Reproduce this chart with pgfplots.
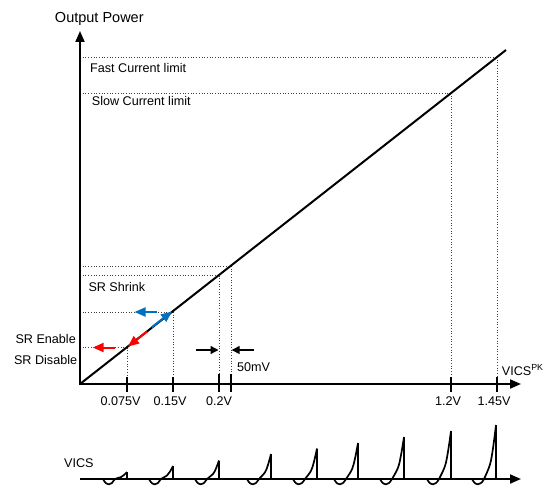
\documentclass[border=0pt]{standalone}
\usepackage{fontspec}
\setmainfont{Liberation Sans}
\usepackage{pgfplots}
\pgfplotsset{compat=1.18}
\usetikzlibrary{arrows.meta}
\definecolor{srblue}{RGB}{0,112,192}
\definecolor{srred}{RGB}{255,0,0}
\pgfplotsset{
  axl/.style={black, line width=2pt},
  dotl/.style={black!75, line width=0.7pt, dotted},
  tickl/.style={black, line width=2.5pt},
  pulse/.style={black, line width=1.7pt, smooth, tension=0.55},
  drop/.style={black, line width=1.7pt},
}
\begin{document}
\begin{tikzpicture}[font=\fontsize{12.6}{15}\selectfont, every node/.style={inner sep=0pt}]
\begin{axis}[
  scale only axis, width=545pt, height=487pt,
  xmin=0, xmax=545, ymin=0, ymax=487, y dir=reverse,
  hide axis, clip=false,
]
\path (rel axis cs:0,0) rectangle (rel axis cs:1,1);
% dotted guide lines
\addplot[dotl] coordinates {(80,57) (497,57)};
\addplot[dotl] coordinates {(80,93) (451,93)};
\addplot[dotl] coordinates {(80,266) (231,266)};
\addplot[dotl] coordinates {(80,275.5) (219,275.5)};
\addplot[dotl] coordinates {(80,312) (173,312)};
\addplot[dotl] coordinates {(80,347.5) (127,347.5)};
\addplot[dotl] coordinates {(497,57) (497,384)};
\addplot[dotl] coordinates {(451,93) (451,384)};
\addplot[dotl] coordinates {(231,266) (231,384)};
\addplot[dotl] coordinates {(219,275.5) (219,384)};
\addplot[dotl] coordinates {(173,312) (173,384)};
\addplot[dotl] coordinates {(127,347.5) (127,384)};
% axes
\addplot[axl, {Triangle[length=11pt,width=9pt]}-{Triangle[length=11pt,width=9pt]}] coordinates {(80,31) (80,384) (521,384)};
% characteristic line
\addplot[axl] coordinates {(80,384) (506,50)};
% ticks
\addplot[tickl] coordinates {(127,377) (127,392)};
\addplot[tickl] coordinates {(173,377) (173,392)};
\addplot[tickl] coordinates {(219,374) (219,392)};
\addplot[tickl] coordinates {(231,374) (231,392)};
\addplot[tickl] coordinates {(451,377) (451,392)};
\addplot[tickl] coordinates {(497,377) (497,392)};
% coloured arrows
\addplot[srblue, line width=2pt, -{Triangle[length=11pt,width=9pt]}] coordinates {(157,312) (134.5,312)};
\addplot[srblue, line width=2pt, -{Triangle[length=11pt,width=9pt]}] coordinates {(151.7,327.3) (172,311.5)};
\addplot[srred, line width=2pt, -{Triangle[length=11pt,width=9pt]}] coordinates {(115,347.5) (92.7,347.5)};
\addplot[srred, line width=2pt, -{Triangle[length=11pt,width=9pt]}] coordinates {(147,331.5) (128,346.5)};
% 50mV arrows
\addplot[black, line width=1.3pt, -{Triangle[length=8pt,width=8pt]}] coordinates {(196,350) (218.5,350)};
\addplot[black, line width=1.3pt, -{Triangle[length=8pt,width=8pt]}] coordinates {(254,350) (231.7,350)};
% texts
\node at (axis cs:99.3,19) {\fontsize{14.5}{17}\selectfont Output Power};
\node[anchor=west] at (axis cs:90,68.3) {Fast Current limit};
\node[anchor=west] at (axis cs:91.7,100.7) {Slow Current limit};
\node[anchor=west] at (axis cs:88.3,287.3) {SR Shrink};
\node[anchor=east] at (axis cs:76,339) {SR Enable};
\node[anchor=east] at (axis cs:77.3,360) {SR Disable};
\node[anchor=west] at (axis cs:237,367.3) {50mV};
\node[anchor=base west] at (axis cs:501.7,375) {VICS\textsuperscript{PK}};
\node at (axis cs:120.5,401) {0.075V};
\node at (axis cs:170,401) {0.15V};
\node at (axis cs:219,401) {0.2V};
\node at (axis cs:448,401) {1.2V};
\node at (axis cs:494,401) {1.45V};
% VICS waveform
\node[anchor=west] at (axis cs:64,462.7) {VICS};
\addplot[axl, -{Triangle[length=11pt,width=9pt]}] coordinates {(80,479) (521,479)};
\addplot[pulse] coordinates {(103,479)(105.5,482.8)(109,484.3)(112,483)(115,479)(121,477.1)(124,475)(127,472)};
\addplot[drop] coordinates {(127,472)(127,479)};
\addplot[pulse] coordinates {(149,479)(151.5,482.8)(155,484.3)(158,483)(161,479)(167,475.5)(170,471.6)(173,466)};
\addplot[drop] coordinates {(173,466)(173,479)};
\addplot[pulse] coordinates {(195,479)(197.5,482.8)(201,484.3)(204,483)(207,479)(213,474)(216,468.5)(219,460.5)};
\addplot[drop] coordinates {(219,460.5)(219,479)};
\addplot[pulse] coordinates {(247,479)(249.5,482.8)(253,484.3)(256,483)(259,479)(265,472.3)(268,464.8)(271,454)};
\addplot[drop] coordinates {(271,454)(271,479)};
\addplot[pulse] coordinates {(293,479)(295.5,482.8)(299,484.3)(302,483)(305,479)(311,470.8)(314,461.6)(317,448.5)};
\addplot[drop] coordinates {(317,448.5)(317,479)};
\addplot[pulse] coordinates {(334,479)(336.5,482.8)(340,484.3)(343,483)(346,479)(352,469.3)(355,458.5)(358,443)};
\addplot[drop] coordinates {(358,443)(358,479)};
\addplot[pulse] coordinates {(380,479)(382.5,482.8)(386,484.3)(389,483)(392,479)(398,467.7)(401,455.1)(404,437)};
\addplot[drop] coordinates {(404,437)(404,479)};
\addplot[pulse] coordinates {(427,479)(429.5,482.8)(433,484.3)(436,483)(439,479)(445,466)(448,451.6)(451,431)};
\addplot[drop] coordinates {(451,431)(451,479)};
\addplot[pulse] coordinates {(472,479)(474.5,482.8)(478,484.3)(481,483)(484,479)(490,464.4)(493,448.2)(496,425)};
\addplot[drop] coordinates {(496,425)(496,479)};
\end{axis}
\end{tikzpicture}
\end{document}
